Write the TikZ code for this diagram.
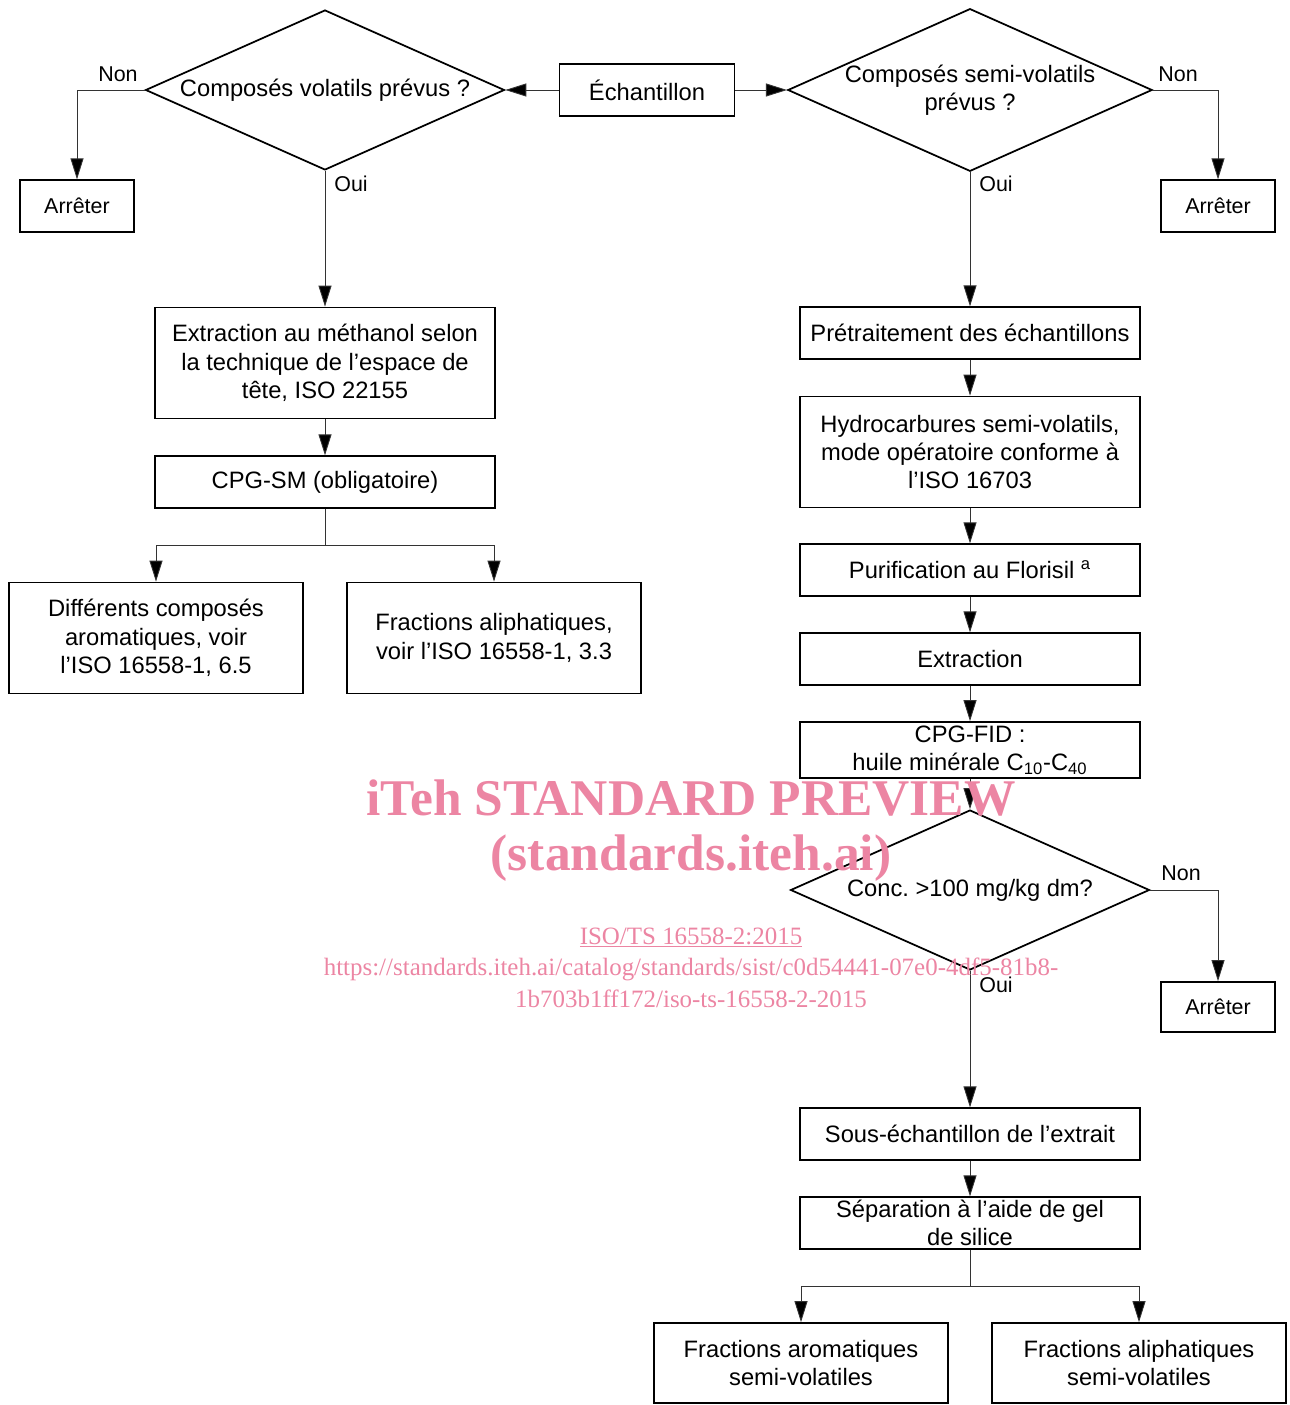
\documentclass[tikz,border=0pt]{standalone}
\usepackage{fontspec}
\setmainfont{Liberation Sans}
\newfontfamily\wmfont{Liberation Serif}
\usetikzlibrary{arrows.meta, shapes.geometric, positioning}
\definecolor{wmpink}{RGB}{236,133,163}
\frenchspacing

\begin{document}
\begin{tikzpicture}[
  x=0.02cm, y=-0.02cm,
  box/.style = {draw, line width=1pt, minimum width=6.8cm, minimum height=1.03cm, inner sep=0pt, align=center, font=\fontsize{13.5}{16.2}\selectfont},
  tallbox/.style = {box, minimum height=2.22cm},
  stopbox/.style = {draw, line width=1pt, minimum width=2.28cm, minimum height=1.03cm, inner sep=0pt, font=\fontsize{12.2}{14}\selectfont},
  decision/.style = {draw, diamond, line width=1pt, aspect=2.24, minimum width=7.18cm, minimum height=3.2cm, inner sep=0pt, align=center, font=\fontsize{13.5}{16.2}\selectfont},
  lbl/.style = {inner sep=0pt, font=\fontsize{12.2}{14}\selectfont},
  arrow/.style = {-{Triangle[length=4.2mm, width=2.6mm, fill=black]}, line width=0.5pt, draw=black!80},
  line/.style = {line width=0.5pt, draw=black!80},
  wm/.style = {text=wmpink, inner sep=0pt, anchor=base}
]
\useasboundingbox (0,0) rectangle (1289,1405);

% Start and the two questions
\node[box, minimum width=3.5cm] (ech) at (647,90) {Échantillon};
\node[decision] (d1) at (325,90) {Composés volatils prévus ?};
\node[decision] (d2) at (970,90) {Composés semi-volatils\\prévus ?};
\node[stopbox] (stop1) at (77,206) {Arrêter};
\node[stopbox] (stop2) at (1218,206) {Arrêter};

% Volatile branch
\node[tallbox] (meth) at (325,363) {Extraction au méthanol selon\\la technique de l’espace de\\tête, ISO 22155};
\node[box] (cpgsm) at (325,482) {CPG-SM (obligatoire)};
\coordinate (split1) at (325,545);
\node[tallbox, minimum width=5.88cm] (arom) at (156,638) {Différents composés\\aromatiques, voir\\l’ISO 16558-1, 6.5};
\node[tallbox, minimum width=5.88cm] (aliph) at (494,638) {Fractions aliphatiques,\\voir l’ISO 16558-1, 3.3};

% Semi-volatile branch
\node[box] (pretr) at (970,333) {Prétraitement des échantillons};
\node[tallbox] (hydro) at (970,452) {Hydrocarbures semi-volatils,\\mode opératoire conforme à\\l’ISO 16703};
\node[box] (flor) at (970,570) {Purification au Florisil \textsuperscript{a}};
\node[box] (extr) at (970,659) {Extraction};
\node[box, minimum height=1.12cm] (fid) at (970,750) {CPG-FID :\\huile minérale C\textsubscript{10}-C\textsubscript{40}};
\node[decision] (d3) at (970,890) {Conc. >100 mg/kg dm?};
\node[stopbox, minimum height=1cm] (stop3) at (1218,1007) {Arrêter};
\node[box] (sous) at (970,1134) {Sous-échantillon de l’extrait};
\node[box] (sep) at (970,1223) {Séparation à l’aide de gel\\de silice};
\coordinate (split2) at (970,1286);
\node[box, minimum width=5.88cm, minimum height=1.6cm] (farom) at (801,1363) {Fractions aromatiques\\semi-volatiles};
\node[box, minimum width=5.88cm, minimum height=1.6cm] (faliph) at (1139,1363) {Fractions aliphatiques\\semi-volatiles};

% Arrows
\draw[arrow] (ech) -- (d1.east);
\draw[arrow] (ech) -- (d2.west);
\draw[arrow] (d1.west) -| (stop1.north);
\draw[arrow] (d2.east) -| (stop2.north);
\draw[arrow] (d1.south) -- (meth.north);
\draw[arrow] (meth) -- (cpgsm);
\draw[line] (cpgsm) -- (split1);
\draw[arrow] (split1) -| (arom.north);
\draw[arrow] (split1) -| (aliph.north);
\draw[arrow] (d2.south) -- (pretr.north);
\draw[arrow] (pretr) -- (hydro);
\draw[arrow] (hydro) -- (flor);
\draw[arrow] (flor) -- (extr);
\draw[arrow] (extr) -- (fid);
\draw[arrow] (fid) -- (d3.north);
\draw[arrow] (d3.east) -| (stop3.north);
\draw[arrow] (d3.south) -- (sous.north);
\draw[arrow] (sous) -- (sep);
\draw[line] (sep) -- (split2);
\draw[arrow] (split2) -| (farom.north);
\draw[arrow] (split2) -| (faliph.north);

% Labels
\node[lbl] (non1) at (118,74) {Non};
\node[lbl] (non2) at (1178,74) {Non};
\node[lbl] (non3) at (1181,873) {Non};
\node[lbl] (oui1) at (351,184) {Oui};
\node[lbl] (oui2) at (996,184) {Oui};
\node[lbl] (oui3) at (996,985) {Oui};

% Watermark
\node[wm, font=\wmfont\bfseries\fontsize{29.3}{30}\selectfont] (wm1) at (691,815) {iTeh STANDARD PREVIEW};
\node[wm, font=\wmfont\bfseries\fontsize{29.3}{30}\selectfont] (wm2) at (691,870) {(standards.iteh.ai)};
\node[wm, font=\wmfont\fontsize{14.2}{15}\selectfont] (wm3) at (691,944) {\underline{ISO/TS 16558-2:2015}};
\node[wm, font=\wmfont\fontsize{14.2}{15}\selectfont] (wm4) at (691,975) {https://standards.iteh.ai/catalog/standards/sist/c0d54441-07e0-4df5-81b8-};
\node[wm, font=\wmfont\fontsize{14.2}{15}\selectfont] (wm5) at (691,1007) {1b703b1ff172/iso-ts-16558-2-2015};
\end{tikzpicture}
\end{document}
